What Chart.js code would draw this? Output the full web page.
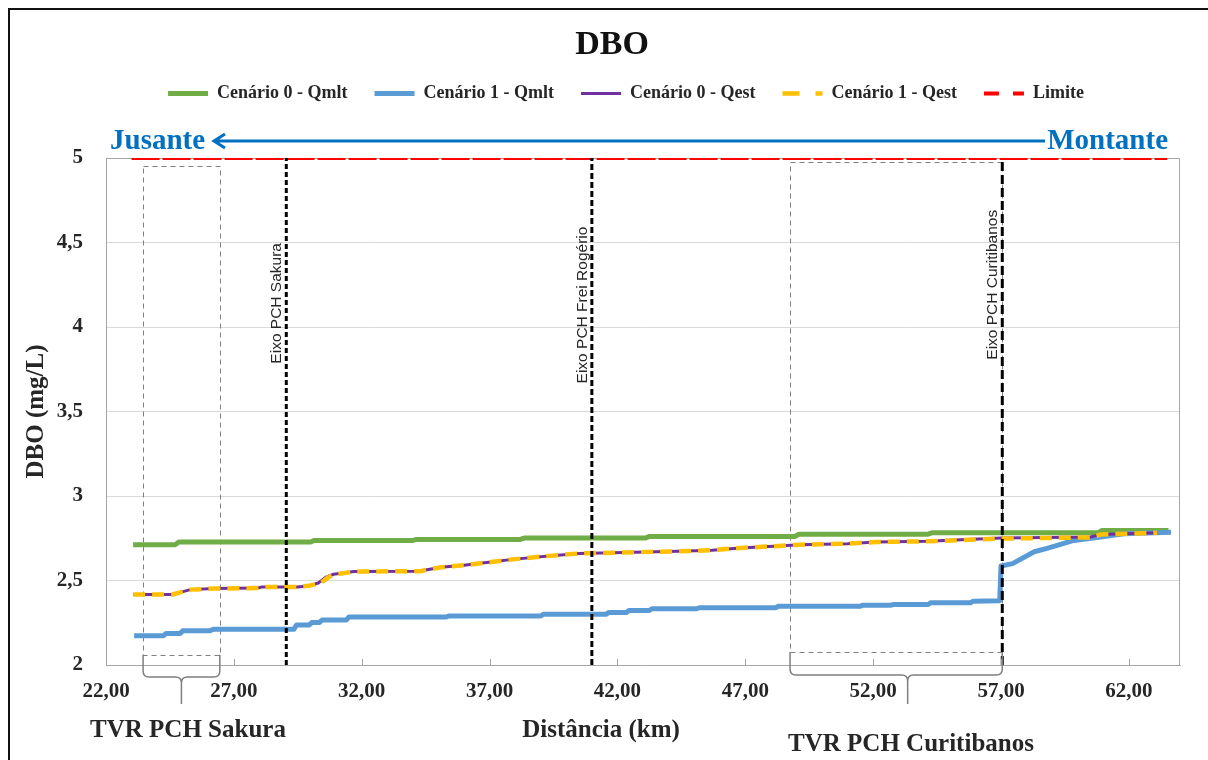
<!DOCTYPE html>
<html lang="pt-BR">
<head>
<meta charset="UTF-8">
<title>DBO</title>
<script src="https://cdn.jsdelivr.net/npm/chart.js@4.4.0/dist/chart.umd.min.js"></script>
<style>
    html, body { margin: 0; padding: 0; background: #fff; }
    #wrap { position: relative; width: 1208px; height: 760px; overflow: hidden; }
    #frame { position: absolute; left: 8px; top: 8px; width: 1240px; height: 800px; border: 2px solid #111; }
    canvas { position: absolute; left: 0; top: 0; }
</style>
</head>
<body>
<div id="wrap">
    <div id="frame"></div>
    <canvas id="chart" width="1208" height="760"></canvas>
</div>
<script>
    // x axis ticks (km)
    const xTicks = [22, 27, 32, 37, 42, 47, 52, 57, 62];

    // Cenário 0 - Qmlt
    const cen0QmltX = [23.06, 24.7, 24.85, 30.0, 30.15, 34.0, 34.15, 38.2, 38.35, 43.1, 43.25, 48.95, 49.1, 54.15, 54.3, 60.8, 60.95, 63.55];
    const cen0QmltY = [2.712, 2.712, 2.728, 2.728, 2.737, 2.737, 2.743, 2.743, 2.751, 2.751, 2.761, 2.761, 2.774, 2.774, 2.782, 2.782, 2.796, 2.796];

    // Cenário 1 - Qmlt
    const cen1QmltX = [23.1, 24.25, 24.35, 24.9, 25.0, 26.05, 26.2, 29.35, 29.45, 29.95, 30.05, 30.35, 30.45, 31.4, 31.5, 35.3, 35.4, 39.0, 39.1, 41.55,
        41.65, 42.35, 42.45, 43.25, 43.35, 45.1, 45.2, 48.2, 48.3, 51.5, 51.6, 52.7, 52.8, 54.15, 54.25, 55.8, 55.9, 56.95, 57.0, 57.45,
        58.3, 58.8, 59.85, 60.9, 61.8, 63.65];
    const cen1QmltY = [2.173, 2.173, 2.187, 2.187, 2.202, 2.202, 2.212, 2.212, 2.237, 2.237, 2.251, 2.251, 2.267, 2.267, 2.284, 2.284, 2.29, 2.29, 2.30, 2.30,
        2.31, 2.31, 2.323, 2.323, 2.333, 2.333, 2.339, 2.339, 2.348, 2.348, 2.354, 2.354, 2.358, 2.358, 2.368, 2.368, 2.377, 2.38, 2.586, 2.6,
        2.67, 2.69, 2.737, 2.757, 2.777, 2.786];

    // Cenário 0 - Qest
    const cen0QestX = [23.06, 24.6, 24.9, 25.3, 26.2, 27.9, 28.1, 29.5, 30.0, 30.3, 30.6, 30.9, 31.7, 34.3, 34.5, 35.1, 36.0, 36.8, 37.9, 39.2,
        40.5, 41.8, 44.4, 45.7, 46.8, 48.3, 49.1, 51.0, 52.1, 54.1, 57.0, 60.5, 60.9, 63.1];
    const cen0QestY = [2.417, 2.417, 2.43, 2.446, 2.452, 2.455, 2.461, 2.461, 2.471, 2.485, 2.52, 2.537, 2.553, 2.555, 2.562, 2.578, 2.59, 2.605, 2.625, 2.644,
        2.66, 2.664, 2.673, 2.679, 2.693, 2.704, 2.712, 2.718, 2.728, 2.732, 2.751, 2.757, 2.772, 2.782];

    // Cenário 1 - Qest
    const cen1QestX = [23.06, 24.6, 24.9, 25.3, 26.2, 27.9, 28.1, 29.5, 30.0, 30.4, 30.7, 31.0, 31.7, 34.3, 34.5, 35.1, 36.0, 36.8, 37.9, 39.2,
        40.5, 41.8, 44.4, 45.7, 46.8, 48.3, 49.1, 51.0, 52.1, 54.1, 57.0, 60.5, 60.9, 63.1];
    const cen1QestY = [2.417, 2.417, 2.43, 2.446, 2.452, 2.455, 2.461, 2.461, 2.471, 2.485, 2.52, 2.537, 2.553, 2.555, 2.562, 2.578, 2.59, 2.605, 2.625, 2.644,
        2.66, 2.664, 2.673, 2.679, 2.693, 2.704, 2.712, 2.718, 2.728, 2.732, 2.748, 2.755, 2.772, 2.782];

    // Limite
    const limiteX = [23.0, 63.5];
    const limiteY = [5, 5];

    // dam axes (km)
    const eixoNames = ['Eixo PCH Sakura', 'Eixo PCH Frei Rogério', 'Eixo PCH Curitibanos'];
    const eixoKm = [29.05, 41.0, 57.05];

    // reduced-flow reaches (km)
    const tvrNames = ['TVR PCH Sakura', 'TVR PCH Curitibanos'];
    const tvrStart = [23.45, 48.75];
    const tvrEnd = [26.45, 57.05];

    const serif = '"Liberation Serif", "Times New Roman", serif';
    const sans = '"Liberation Sans", Arial, sans-serif';
    const textColor = '#262626';
    const arrowBlue = '#0070c0';

    const pts = (xs, ys) => xs.map((x, i) => ({ x: x, y: ys[i] }));

    function brace(ctx, l, r, c, top, h, tip, rad) {
        ctx.beginPath();
        ctx.moveTo(l, top);
        ctx.lineTo(l, h - rad);
        ctx.quadraticCurveTo(l, h, l + rad, h);
        ctx.lineTo(c - rad, h);
        ctx.quadraticCurveTo(c, h, c, h + rad);
        ctx.lineTo(c, tip);
        ctx.moveTo(r, top);
        ctx.lineTo(r, h - rad);
        ctx.quadraticCurveTo(r, h, r - rad, h);
        ctx.lineTo(c + rad, h);
        ctx.quadraticCurveTo(c, h, c, h + rad);
        ctx.stroke();
    }

    // extra drawing: frame, TVR boxes, braces, labels, arrow
    const extras = {
        id: 'extras',
        beforeInit(chart) {
            // leave room between legend and plot for the Jusante/Montante arrow
            const fit = chart.legend.fit;
            chart.legend.fit = function () {
                fit.call(this);
                this.height += 45.5;
            };
        },
        afterLayout(chart) {
            // legend row sits a bit right of the canvas centre
            chart.legend.left += 31;
            chart.legend.right += 31;
        },
        beforeDatasetsDraw(chart) {
            const { ctx, chartArea: a, scales: { x, y } } = chart;
            ctx.save();
            ctx.strokeStyle = '#a6a6a6';
            ctx.lineWidth = 1;
            ctx.beginPath();
            ctx.moveTo(a.left, a.top + 0.5);
            ctx.lineTo(a.right - 0.5, a.top + 0.5);
            ctx.lineTo(a.right - 0.5, a.bottom);
            ctx.stroke();

            // TVR dashed boxes
            const boxTop = [4.95, 4.975];
            const boxBottom = [2.06, 2.077];
            ctx.strokeStyle = '#7f7f7f';
            ctx.setLineDash([5, 4]);
            tvrStart.forEach((s, i) => {
                const l = Math.round(x.getPixelForValue(s)) + 0.5;
                const r = Math.round(x.getPixelForValue(tvrEnd[i])) + 0.5;
                const t = Math.round(y.getPixelForValue(boxTop[i])) + 0.5;
                const b = Math.round(y.getPixelForValue(boxBottom[i])) + 0.5;
                ctx.strokeRect(l, t, r - l, b - t);
            });
            ctx.restore();
        },
        afterDatasetsDraw(chart) {
            const { ctx, chartArea: a, scales: { x, y } } = chart;
            ctx.save();
            // inner tick marks
            ctx.strokeStyle = '#a6a6a6';
            ctx.lineWidth = 1;
            xTicks.slice(1).forEach(v => {
                const px = Math.round(x.getPixelForValue(v)) + 0.5;
                ctx.beginPath();
                ctx.moveTo(px, a.bottom);
                ctx.lineTo(px, a.bottom - 6);
                ctx.stroke();
            });
            // rotated dam labels
            const labelAt = [4.14, 4.13, 4.25];
            ctx.fillStyle = textColor;
            ctx.font = '15.5px ' + sans;
            ctx.textAlign = 'center';
            ctx.textBaseline = 'alphabetic';
            eixoKm.forEach((k, i) => {
                ctx.save();
                ctx.translate(x.getPixelForValue(k) - 5, y.getPixelForValue(labelAt[i]));
                ctx.rotate(-Math.PI / 2);
                ctx.fillText(eixoNames[i], 0, 0);
                ctx.restore();
            });
            ctx.restore();
        },
        afterDraw(chart) {
            const { ctx, chartArea: a, scales: { x, y } } = chart;
            ctx.save();

            // title
            ctx.fillStyle = '#111';
            ctx.font = 'bold 34px ' + serif;
            ctx.textAlign = 'center';
            ctx.textBaseline = 'middle';
            ctx.fillText('DBO', 612, 45);

            // Jusante <- Montante
            const ay = a.top - 17;
            ctx.strokeStyle = arrowBlue;
            ctx.fillStyle = arrowBlue;
            ctx.lineWidth = 3;
            ctx.beginPath();
            ctx.moveTo(a.left + 108, ay);
            ctx.lineTo(a.right - 135, ay);
            ctx.moveTo(a.left + 119, ay - 7);
            ctx.lineTo(a.left + 108, ay);
            ctx.lineTo(a.left + 119, ay + 7);
            ctx.stroke();
            ctx.font = 'bold 29px ' + serif;
            ctx.textBaseline = 'alphabetic';
            ctx.textAlign = 'left';
            ctx.fillText('Jusante', a.left + 4, ay + 8);
            ctx.textAlign = 'right';
            ctx.fillText('Montante', a.right - 12, ay + 8);

            // braces under the TVR boxes
            const boxBottom = [2.06, 2.077];
            const braceMid = [24.95, 53.35];
            ctx.strokeStyle = '#7f7f7f';
            ctx.lineWidth = 1.5;
            tvrStart.forEach((s, i) => {
                const top = y.getPixelForValue(boxBottom[i]);
                const h = a.bottom + (i === 0 ? 12 : 10);
                brace(ctx, x.getPixelForValue(s), x.getPixelForValue(tvrEnd[i]), x.getPixelForValue(braceMid[i]),
                    top, h, a.bottom + 39, 6);
            });

            // TVR labels and axis titles
            ctx.fillStyle = textColor;
            ctx.textAlign = 'center';
            ctx.textBaseline = 'middle';
            ctx.font = 'bold 25px ' + serif;
            ctx.fillText(tvrNames[0], 188, a.bottom + 66);
            ctx.fillText(tvrNames[1], 911, a.bottom + 80);
            ctx.fillText('Distância (km)', 601, a.bottom + 66);

            ctx.translate(37, (a.top + a.bottom) / 2);
            ctx.rotate(-Math.PI / 2);
            ctx.fillText('DBO (mg/L)', 0, 0);
            ctx.restore();
        }
    };

    const eixoDash = [[5, 3], [6, 3], [9, 4]];

    new Chart(document.getElementById('chart'), {
        type: 'line',
        data: {
            datasets: [
                { label: 'Cenário 0 - Qmlt', data: pts(cen0QmltX, cen0QmltY), borderColor: '#70ad47', backgroundColor: '#70ad47', borderWidth: 5, order: 5 },
                { label: 'Cenário 1 - Qmlt', data: pts(cen1QmltX, cen1QmltY), borderColor: '#5b9bd5', backgroundColor: '#5b9bd5', borderWidth: 5, order: 4 },
                { label: 'Cenário 0 - Qest', data: pts(cen0QestX, cen0QestY), borderColor: '#7030a0', backgroundColor: '#7030a0', borderWidth: 3, order: 3 },
                { label: 'Cenário 1 - Qest', data: pts(cen1QestX, cen1QestY), borderColor: '#ffc000', backgroundColor: '#ffc000', borderWidth: 4.5,
                    borderDash: [12, 7], legendDash: [17, 16], order: 2 },
                { label: 'Limite', data: pts(limiteX, limiteY), borderColor: '#ff0000', backgroundColor: '#ff0000', borderWidth: 4,
                    borderDash: [28, 3], legendDash: [15, 14], order: 1 },
                ...eixoKm.map((k, i) => ({
                    label: eixoNames[i],
                    data: [{ x: k, y: 2 }, { x: k, y: 5 }],
                    borderColor: '#000',
                    borderWidth: 3,
                    borderDash: eixoDash[i],
                    order: 0
                }))
            ]
        },
        options: {
            responsive: false,
            animation: false,
            elements: {
                point: { radius: 0 },
                line: { tension: 0, fill: false, borderJoinStyle: 'round' }
            },
            layout: { padding: { top: 57.5, left: 10, right: 28, bottom: 0 } },
            plugins: {
                title: { display: false },
                tooltip: { enabled: false },
                legend: {
                    position: 'top',
                    labels: {
                        usePointStyle: true,
                        pointStyle: 'line',
                        pointStyleWidth: 40,
                        padding: 27,
                        color: textColor,
                        font: { family: serif, size: 18, weight: 'bold' },
                        filter: item => item.datasetIndex < 5,
                        sort: (p, q) => p.datasetIndex - q.datasetIndex,
                        generateLabels(chart) {
                            const items = Chart.defaults.plugins.legend.labels.generateLabels(chart);
                            items.forEach(it => {
                                const ds = chart.data.datasets[it.datasetIndex];
                                if (ds.legendDash) it.lineDash = ds.legendDash;
                            });
                            return items;
                        }
                    }
                }
            },
            scales: {
                x: {
                    type: 'linear',
                    min: 22,
                    max: 64,
                    afterBuildTicks: s => { s.ticks = xTicks.map(v => ({ value: v })); },
                    afterFit: s => { s.height = 95; },
                    grid: { display: true, drawOnChartArea: false, drawTicks: false },
                    border: { display: true, color: '#a6a6a6', width: 1 },
                    ticks: {
                        padding: 14,
                        autoSkip: false,
                        maxRotation: 0,
                        color: textColor,
                        font: { family: serif, size: 21, weight: 'bold' },
                        callback: v => v.toFixed(2).replace('.', ',')
                    }
                },
                y: {
                    type: 'linear',
                    min: 2,
                    max: 5,
                    afterFit: s => { s.width = 96; },
                    grid: { color: '#d9d9d9', drawTicks: false },
                    border: { display: true, color: '#a6a6a6', width: 1 },
                    ticks: {
                        stepSize: 0.5,
                        padding: 23,
                        color: textColor,
                        font: { family: serif, size: 21, weight: 'bold' },
                        callback: v => String(v).replace('.', ',')
                    }
                }
            }
        },
        plugins: [extras]
    });
</script>
</body>
</html>
